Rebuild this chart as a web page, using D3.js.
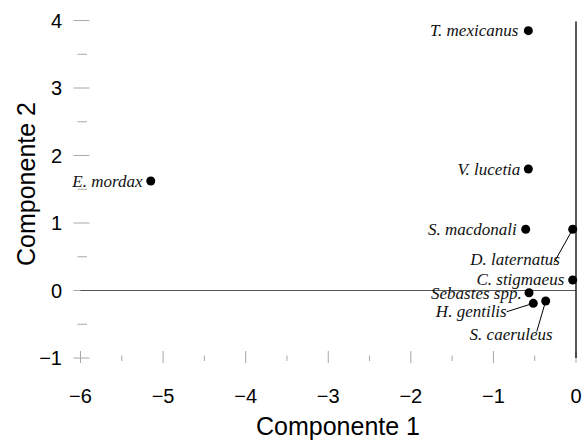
<!DOCTYPE html>
<html>
<head>
<meta charset="utf-8">
<script src="https://cdn.jsdelivr.net/npm/d3@7"></script>
<style>
  html, body { margin: 0; padding: 0; background: #fff; }
  svg { display: block; }
</style>
</head>
<body>
<svg id="chart" width="584" height="445"></svg>
<script>
// ---- data ----
const species = ["T. mexicanus", "V. lucetia", "S. macdonali", "D. laternatus", "C. stigmaeus",
                 "Sebastes spp.", "H. gentilis", "S. caeruleus", "E. mordax"];
const comp1 = [-0.577, -0.577, -0.609, -0.04, -0.04, -0.569, -0.517, -0.367, -5.149];
const comp2 = [3.85, 1.80, 0.907, 0.907, 0.156, -0.033, -0.19, -0.156, 1.623];
const xTickValues = [-6, -5, -4, -3, -2, -1, 0];
const yTickValues = [-1, 0, 1, 2, 3, 4];

// ---- layout (label placement relative to each point, in px) ----
const labelLayout = {
  "T. mexicanus":  {dx: -10, dy: 5.5},
  "V. lucetia":    {dx: -8,  dy: 6},
  "S. macdonali":  {dx: -9,  dy: 5.7},
  "D. laternatus": {dx: -12.7, dy: 35.7, lx: -18.5, ly: 33},
  "C. stigmaeus":  {dx: -8.4, dy: 5},
  "Sebastes spp.": {dx: -7.3, dy: 6.3},
  "H. gentilis":   {dx: -26.6, dy: 13.4, lx: -26.6, ly: 8.4},
  "S. caeruleus":  {dx: 7,   dy: 39, lx: -9, ly: 30.7},
  "E. mordax":     {dx: -8.3, dy: 5.7}
};

const svg = d3.select("#chart");
const x = d3.scaleLinear().domain([-6, 0]).range([80.5, 576]);
const y = d3.scaleLinear().domain([-1, 4]).range([358, 20.5]);
const fmt = v => d3.format("d")(v).replace("-", "\u2212");

// minor/major ticks, y (drawn at x=-6 level)
const yMinor = d3.range(-0.5, 4, 1);
svg.append("g").selectAll("line.ymaj").data(yTickValues).join("line")
  .attr("x1", 73.5).attr("x2", 89.5)
  .attr("y1", d => y(d)).attr("y2", d => y(d))
  .attr("stroke", "#a8a8a8").attr("stroke-width", 1);
svg.append("g").selectAll("line.ymin").data(yMinor).join("line")
  .attr("x1", 77.5).attr("x2", 87)
  .attr("y1", d => y(d)).attr("y2", d => y(d))
  .attr("stroke", "#a8a8a8").attr("stroke-width", 1);
svg.append("g").selectAll("text").data(yTickValues).join("text")
  .attr("x", 62).attr("y", d => y(d) + 7)
  .attr("text-anchor", "end")
  .attr("font-family", "Liberation Sans, Arial, sans-serif")
  .attr("font-size", 20)
  .text(fmt);

// x ticks (drawn at y=-1 level)
const xMinor = d3.range(-5.5, 0, 1);
svg.append("g").selectAll("line").data(xTickValues).join("line")
  .attr("x1", d => x(d)).attr("x2", d => x(d))
  .attr("y1", 351).attr("y2", 363)
  .attr("stroke", "#a8a8a8").attr("stroke-width", 1);
svg.append("g").selectAll("line").data(xMinor).join("line")
  .attr("x1", d => x(d)).attr("x2", d => x(d))
  .attr("y1", 355.5).attr("y2", 361)
  .attr("stroke", "#a8a8a8").attr("stroke-width", 1);
svg.append("g").selectAll("text").data(xTickValues).join("text")
  .attr("x", d => x(d)).attr("y", 403)
  .attr("text-anchor", "middle")
  .attr("font-family", "Liberation Sans, Arial, sans-serif")
  .attr("font-size", 20)
  .text(fmt);

// reference lines
svg.append("line")
  .attr("x1", x(-6)).attr("x2", x(0)).attr("y1", y(0)).attr("y2", y(0))
  .attr("stroke", "#555").attr("stroke-width", 1.2);
svg.append("line")
  .attr("x1", x(0)).attr("x2", x(0)).attr("y1", y(4) + 1).attr("y2", y(-1))
  .attr("stroke", "#000").attr("stroke-width", 1.3);

// axis titles
svg.append("text")
  .attr("x", 338).attr("y", 435)
  .attr("text-anchor", "middle")
  .attr("font-family", "Liberation Sans, Arial, sans-serif")
  .attr("font-size", 25)
  .text("Componente 1");
svg.append("text")
  .attr("transform", "translate(35,184) rotate(-90)")
  .attr("text-anchor", "middle")
  .attr("font-family", "Liberation Sans, Arial, sans-serif")
  .attr("font-size", 25)
  .text("Componente 2");

// points
const pts = species.map((s, i) => ({name: s, c1: comp1[i], c2: comp2[i], L: labelLayout[s]}));

// leader lines
svg.append("g").selectAll("line").data(pts.filter(d => d.L.lx !== undefined)).join("line")
  .attr("x1", d => x(d.c1)).attr("y1", d => y(d.c2))
  .attr("x2", d => x(d.c1) + d.L.lx).attr("y2", d => y(d.c2) + d.L.ly)
  .attr("stroke", "#000").attr("stroke-width", 1);

svg.append("g").selectAll("circle").data(pts).join("circle")
  .attr("cx", d => x(d.c1)).attr("cy", d => y(d.c2)).attr("r", 4.5)
  .attr("fill", "#000");

svg.append("g").selectAll("text").data(pts).join("text")
  .attr("x", d => x(d.c1) + d.L.dx).attr("y", d => y(d.c2) + d.L.dy)
  .attr("text-anchor", "end")
  .attr("font-family", "Liberation Serif, Times New Roman, serif")
  .attr("font-style", "italic")
  .attr("font-size", 17)
  .attr("fill", "#111")
  .text(d => d.name);
</script>
</body>
</html>
